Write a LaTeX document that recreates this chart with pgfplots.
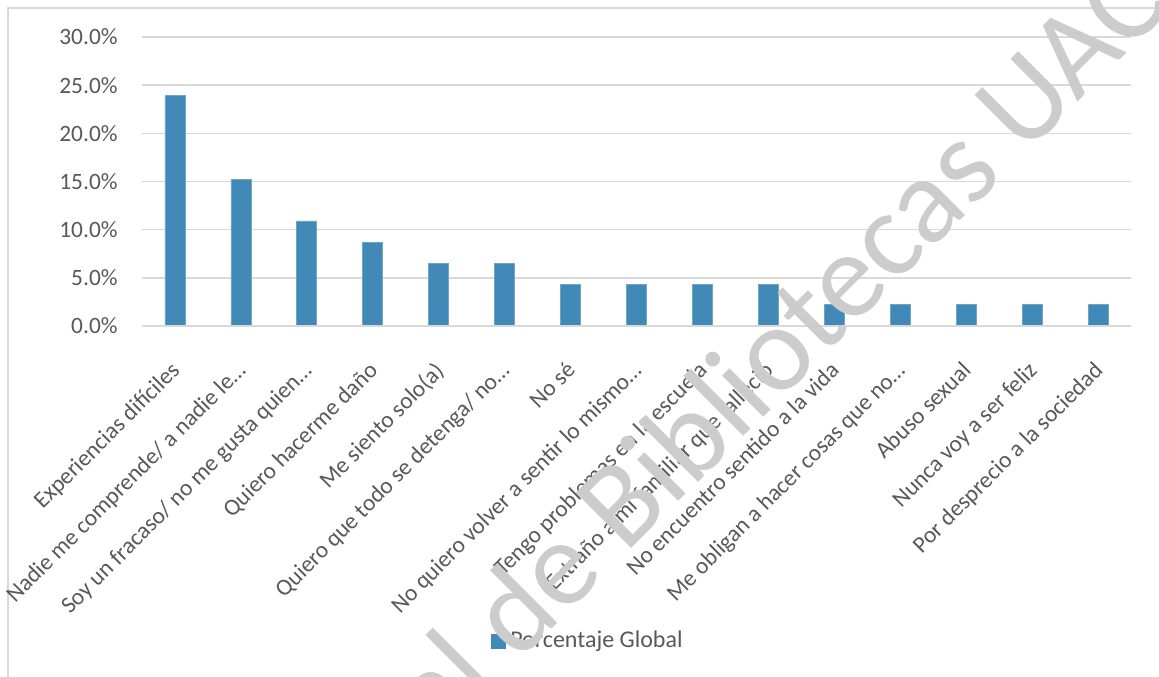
\documentclass[border=0pt]{standalone}
\usepackage{pgfplots}
\pgfplotsset{compat=1.18}
\usepackage{fontspec}
\setmainfont{Carlito}
\definecolor{barblue}{RGB}{65,137,182}
\definecolor{barline}{RGB}{110,165,200}
\definecolor{gridgray}{RGB}{217,217,217}
\definecolor{txtgray}{RGB}{89,89,89}
\definecolor{wmgray}{RGB}{204,204,204}
\begin{document}
\begin{tikzpicture}
\path[use as bounding box] (0,0) rectangle (579.5bp,338.5bp);
\fill[white] (0,0) rectangle (579.5bp,338.5bp);
\draw[gridgray, line width=0.8bp] (4bp,0) -- (4bp,334.5bp) -- (600bp,334.5bp);
\begin{axis}[
  at={(71bp,175.5bp)}, anchor=south west,
  scale only axis, width=494.5bp, height=144.5bp,
  xmin=-0.5, xmax=14.5, ymin=0, ymax=30,
  axis line style={draw=none},
  ytick={0,5,10,15,20,25,30},
  ymajorgrids, grid style={gridgray, line width=0.7bp},
  major tick length=0pt,
  xtick=data,
  xticklabels={Experiencias difíciles, Nadie me comprende/ a nadie le…, Soy un fracaso/ no me gusta quien…, Quiero hacerme daño, Me siento solo(a), Quiero que todo se detenga/ no…, No sé, No quiero volver a sentir lo mismo…, Tengo problemas en la escuela, Extraño a mi familiar que falleció, No encuentro sentido a la vida, Me obligan a hacer cosas que no…, Abuso sexual, Nunca voy a ser feliz, Por desprecio a la sociedad},
  /pgf/number format/assume math mode=true,
  yticklabel={\pgfmathprintnumber[fixed,fixed zerofill,precision=1,assume math mode=true]{\tick}\%},
  yticklabel style={font=\fontsize{11.7bp}{14bp}\selectfont, text=txtgray, anchor=east, inner sep=0pt, xshift=-12bp},
  xticklabel style={font=\fontsize{11.7bp}{14bp}\selectfont, text=txtgray, rotate=45, anchor=north east, inner sep=0pt, xshift=-13.9bp, yshift=-10bp},
  legend style={draw=none, fill=none, at={(0.452,-1.09)}, anchor=center, font=\fontsize{12bp}{14bp}\selectfont, text=txtgray, inner sep=0pt},
  legend image code/.code={\fill[barblue] (0bp,-3.5bp) rectangle (7bp,3.5bp);},
  legend cell align=left,
]
\addplot[ybar, bar width=10bp, fill=barblue, draw=barline, line width=0.4bp] coordinates {
(0,23.9) (1,15.2) (2,10.9) (3,8.7) (4,6.5) (5,6.5) (6,4.3) (7,4.3) (8,4.3) (9,4.3) (10,2.2) (11,2.2) (12,2.2) (13,2.2) (14,2.2)
};
\addlegendentry{Porcentaje Global}
\draw[gridgray, line width=0.7bp] (axis cs:-0.5,0) -- (axis cs:14.5,0);
\end{axis}
\node[rotate=45, anchor=mid east, inner sep=0pt, text=wmgray, font=\fontsize{61bp}{70bp}\selectfont] at (585bp,336.5bp) {General de Bibliotecas UAC};
\end{tikzpicture}
\end{document}
